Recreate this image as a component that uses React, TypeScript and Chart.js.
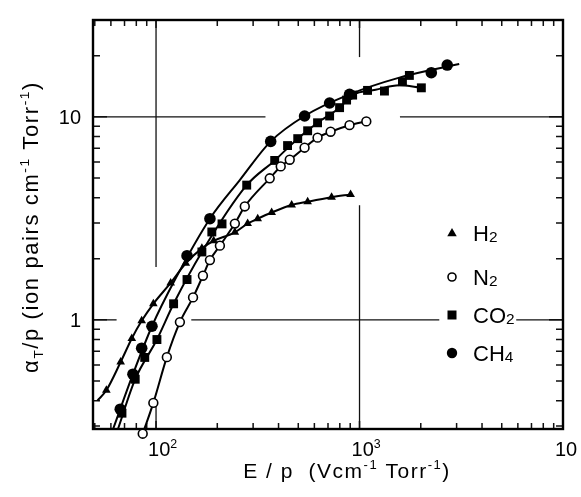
import React, { useEffect, useRef } from "react";
import { Chart, registerables } from "chart.js";

Chart.register(...registerables);

// ---- data (E/p in V cm^-1 Torr^-1, alpha_T/p in ion pairs cm^-1 Torr^-1) ----
const h2X = [57, 67, 76, 85, 97, 118, 140, 168, 192, 244, 282, 316, 370, 464, 556, 729, 904];
const h2Y = [0.45, 0.62, 0.81, 0.99, 1.2, 1.52, 1.9, 2.25, 2.45, 2.7, 2.98, 3.15, 3.38, 3.68, 3.82, 4.02, 4.15];
const h2CurveX = [51.5, 57, 67, 76, 85, 97, 118, 140, 168, 192, 244, 282, 316, 370, 464, 556, 729, 904];
const h2CurveY = [0.4, 0.45, 0.62, 0.81, 0.99, 1.2, 1.52, 1.9, 2.25, 2.45, 2.7, 2.98, 3.15, 3.38, 3.68, 3.82, 4.02, 4.15];

const n2X = [86, 97, 113, 131, 152, 170, 184, 206, 244, 273, 362, 410, 454, 537, 622, 721, 893, 1080];
const n2Y = [0.275, 0.39, 0.655, 0.975, 1.29, 1.65, 1.97, 2.32, 2.98, 3.62, 4.98, 5.7, 6.15, 7.05, 7.9, 8.45, 9.1, 9.5];
const n2CurveX = n2X;
const n2CurveY = n2Y;

const co2X = [68, 79, 88, 101, 122, 142, 168, 188, 211, 279, 383, 443, 497, 556, 622, 713, 798, 864, 925, 1095, 1326, 1625, 1758, 2013];
const co2Y = [0.347, 0.51, 0.653, 0.8, 1.2, 1.58, 2.16, 2.71, 2.97, 4.61, 6.1, 7.22, 7.81, 8.54, 9.35, 10.1, 11.1, 12.1, 12.8, 13.5, 13.4, 14.9, 16.0, 13.9];
const co2CurveX = [65, 79, 101, 122, 168, 279, 383, 497, 622, 798, 925, 1200, 1570, 2013];
const co2CurveY = [0.29, 0.51, 0.8, 1.2, 2.16, 4.61, 6.1, 7.81, 9.35, 11.1, 12.8, 13.6, 14.3, 13.9];

const ch4X = [66.7, 77, 85, 95.5, 142, 184, 366, 537, 713, 893, 2253, 2698];
const ch4Y = [0.363, 0.54, 0.725, 0.93, 2.07, 3.15, 7.57, 10.1, 11.7, 12.9, 16.5, 18.0];
const ch4CurveX = [61.5, 77, 95.5, 124, 184, 258, 366, 537, 893, 1570, 3090];
const ch4CurveY = [0.29, 0.54, 0.93, 1.58, 3.15, 4.88, 7.57, 10.1, 12.9, 15.6, 18.2];

const xTickValues = [100, 1000, 10000];
const xTickBase = ["10", "10", "10"];
const xTickExp = ["2", "3", ""];
const yTickValues = [1, 10];
const yTickLabels = ["1", "10"];

const legendBase = ["H", "N", "CO", "CH"];
const legendSub = ["2", "2", "2", "4"];

const X_MIN = 49;
const X_MAX = 10000;
const Y_MIN = 0.29;
const Y_MAX = 30;

const FONT = "'Liberation Sans', Arial, sans-serif";

type Part = { t: string; s?: "sup" | "sub" | "low" };

function drawRich(
  ctx: CanvasRenderingContext2D,
  parts: Part[],
  x: number,
  y: number,
  size: number,
  align: "left" | "center" | "right",
  spacing = 0
) {
  ctx.save();
  ctx.textAlign = "left";
  ctx.textBaseline = "alphabetic";
  (ctx as any).letterSpacing = spacing + "px";
  const scale = (p: Part) => (p.s === "low" ? 0.7 : p.s ? 0.62 : 1);
  const widths = parts.map((p) => {
    ctx.font = `${size * scale(p)}px ${FONT}`;
    return ctx.measureText(p.t).width;
  });
  const total = widths.reduce((a, b) => a + b, 0);
  let cx = align === "center" ? x - total / 2 : align === "right" ? x - total : x;
  parts.forEach((p, i) => {
    ctx.font = `${size * scale(p)}px ${FONT}`;
    const dy = p.s === "sup" ? -size * 0.42 : p.s === "sub" ? size * 0.22 : p.s === "low" ? size * 0.06 : 0;
    ctx.fillText(p.t, cx, y + dy);
    cx += widths[i];
  });
  ctx.restore();
}

function drawMarker(ctx: CanvasRenderingContext2D, kind: number, x: number, y: number) {
  ctx.save();
  ctx.fillStyle = "#000";
  ctx.strokeStyle = "#000";
  ctx.lineWidth = 1.6;
  ctx.beginPath();
  if (kind === 0) {
    const r = 5;
    ctx.moveTo(x, y - r);
    ctx.lineTo(x + r * 0.95, y + r * 0.65);
    ctx.lineTo(x - r * 0.95, y + r * 0.65);
    ctx.closePath();
    ctx.fill();
  } else if (kind === 1) {
    ctx.arc(x, y, 4, 0, Math.PI * 2);
    ctx.fillStyle = "#fff";
    ctx.fill();
    ctx.stroke();
  } else if (kind === 2) {
    ctx.rect(x - 4.5, y - 4.5, 9, 9);
    ctx.fill();
  } else {
    ctx.arc(x, y, 5.2, 0, Math.PI * 2);
    ctx.fill();
  }
  ctx.restore();
}

const framePlugin = {
  id: "frame",
  beforeDatasetsDraw(chart: any) {
    const { ctx, chartArea } = chart;
    const xs = chart.scales.x;
    const ys = chart.scales.y;
    const { left, right, top, bottom } = chartArea;
    ctx.save();
    ctx.strokeStyle = "#111";
    // partial decade grid lines (broken where the original is broken)
    ctx.lineWidth = 1.3;
    const gridH = [
      { v: 10, r: [[X_MIN, 345], [1580, X_MAX]] },
      { v: 1, r: [[X_MIN, 64], [149, 2466], [5890, X_MAX]] },
    ];
    const gridV = [
      { v: 100, r: [[1.82, Y_MAX], [Y_MIN, 0.39]] },
      { v: 1000, r: [[19.7, Y_MAX], [Y_MIN, 3.67]] },
    ];
    gridH.forEach((g) => {
      const py = ys.getPixelForValue(g.v);
      g.r.forEach(([a, b]) => {
        ctx.beginPath();
        ctx.moveTo(xs.getPixelForValue(a), py);
        ctx.lineTo(xs.getPixelForValue(b), py);
        ctx.stroke();
      });
    });
    gridV.forEach((g) => {
      const px = xs.getPixelForValue(g.v);
      g.r.forEach(([a, b]) => {
        ctx.beginPath();
        ctx.moveTo(px, ys.getPixelForValue(a));
        ctx.lineTo(px, ys.getPixelForValue(b));
        ctx.stroke();
      });
    });
    // inward minor ticks
    ctx.lineWidth = 1.5;
    for (let d = 10; d <= 10000; d *= 10) {
      for (let m = 1; m <= 9; m++) {
        const v = d * m;
        if (v <= X_MIN || v >= X_MAX) continue;
        const px = xs.getPixelForValue(v);
        const len = m === 1 ? 8 : 6;
        ctx.beginPath();
        ctx.moveTo(px, bottom);
        ctx.lineTo(px, bottom - len);
        ctx.moveTo(px, top);
        ctx.lineTo(px, top + len);
        ctx.stroke();
      }
    }
    for (let d = 0.1; d <= 10.001; d *= 10) {
      for (let m = 1; m <= 9; m++) {
        const v = d * m;
        if (v <= Y_MIN * 1.02 || v >= Y_MAX * 0.99) continue;
        const py = ys.getPixelForValue(v);
        const len = m === 1 ? 14 : 7;
        ctx.beginPath();
        ctx.moveTo(left, py);
        ctx.lineTo(left + len, py);
        ctx.moveTo(right, py);
        ctx.lineTo(right - len, py);
        ctx.stroke();
      }
    }
    // frame
    ctx.lineWidth = 2.4;
    ctx.strokeStyle = "#000";
    ctx.strokeRect(left, top, right - left, bottom - top);
    ctx.restore();
  },
  afterDraw(chart: any) {
    const { ctx, chartArea } = chart;
    const xs = chart.scales.x;
    const ys = chart.scales.y;
    ctx.save();
    ctx.fillStyle = "#000";
    // tick labels
    xTickValues.forEach((v, i) => {
      const px = xs.getPixelForValue(v);
      const parts: Part[] = [{ t: xTickBase[i] }];
      if (xTickExp[i]) parts.push({ t: xTickExp[i], s: "sup" });
      drawRich(ctx, parts, px - 8, chartArea.bottom + 27, 20, "left");
    });
    yTickValues.forEach((v, i) => {
      const py = ys.getPixelForValue(v);
      drawRich(ctx, [{ t: yTickLabels[i] }], chartArea.left - 12, py + 7, 20, "right");
    });
    // axis titles
    drawRich(
      ctx,
      [{ t: "E / p  (Vcm" }, { t: "-1", s: "sup" }, { t: " Torr" }, { t: "-1", s: "sup" }, { t: ")" }],
      347,
      478,
      21,
      "center",
      1.5
    );
    ctx.save();
    ctx.translate(38, 227);
    ctx.rotate(-Math.PI / 2);
    drawRich(
      ctx,
      [{ t: "α" }, { t: "T", s: "sub" }, { t: "/p (ion pairs cm" }, { t: "-1", s: "sup" }, { t: " Torr" }, { t: "-1", s: "sup" }, { t: ")" }],
      0,
      0,
      22,
      "center",
      1.6
    );
    ctx.restore();
    // legend
    const rows = [233, 277, 315, 353];
    legendBase.forEach((b, i) => {
      drawMarker(ctx, i, 452, rows[i]);
      drawRich(ctx, [{ t: b }, { t: legendSub[i], s: "low" }], 473, rows[i] + 8, 22, "left");
    });
    ctx.restore();
  },
};

function zip(xs: number[], ys: number[]) {
  return xs.map((x, i) => ({ x, y: ys[i] }));
}

export default function App() {
  const ref = useRef<HTMLCanvasElement | null>(null);
  useEffect(() => {
    if (!ref.current) return;
    const curve = (xs: number[], ys: number[]) => ({
      data: zip(xs, ys),
      showLine: true,
      pointRadius: 0,
      borderColor: "#000",
      borderWidth: 2,
      cubicInterpolationMode: "monotone" as const,
      clip: false as any,
      order: 2,
    });
    const marks = (xs: number[], ys: number[], style: string, r: number, fill: string) => ({
      data: zip(xs, ys),
      showLine: false,
      pointStyle: style,
      pointRadius: r,
      backgroundColor: fill,
      borderColor: "#000",
      borderWidth: fill === "#fff" ? 1.6 : 0,
      clip: false as any,
      order: 1,
    });
    const chart = new Chart(ref.current, {
      type: "scatter",
      data: {
        datasets: [
          marks(h2X, h2Y, "triangle", 5, "#000"),
          marks(n2X, n2Y, "circle", 4.4, "#fff"),
          marks(co2X, co2Y, "rect", 6.3, "#000"),
          marks(ch4X, ch4Y, "circle", 5.8, "#000"),
          curve(h2CurveX, h2CurveY),
          curve(n2CurveX, n2CurveY),
          curve(co2CurveX, co2CurveY),
          curve(ch4CurveX, ch4CurveY),
        ] as any,
      },
      options: {
        animation: false,
        responsive: false,
        events: [],
        layout: { padding: { left: 93, right: 18, top: 20, bottom: 68 } },
        plugins: { legend: { display: false }, tooltip: { enabled: false } },
        scales: {
          x: { type: "logarithmic", min: X_MIN, max: X_MAX, display: false },
          y: { type: "logarithmic", min: Y_MIN, max: Y_MAX, display: false },
        },
      },
      plugins: [framePlugin],
    });
    return () => chart.destroy();
  }, []);
  return (
    <div style={{ position: "fixed", left: 0, top: 0, width: 581, height: 497, background: "#fff" }}>
      <canvas ref={ref} width={581} height={497} />
    </div>
  );
}
